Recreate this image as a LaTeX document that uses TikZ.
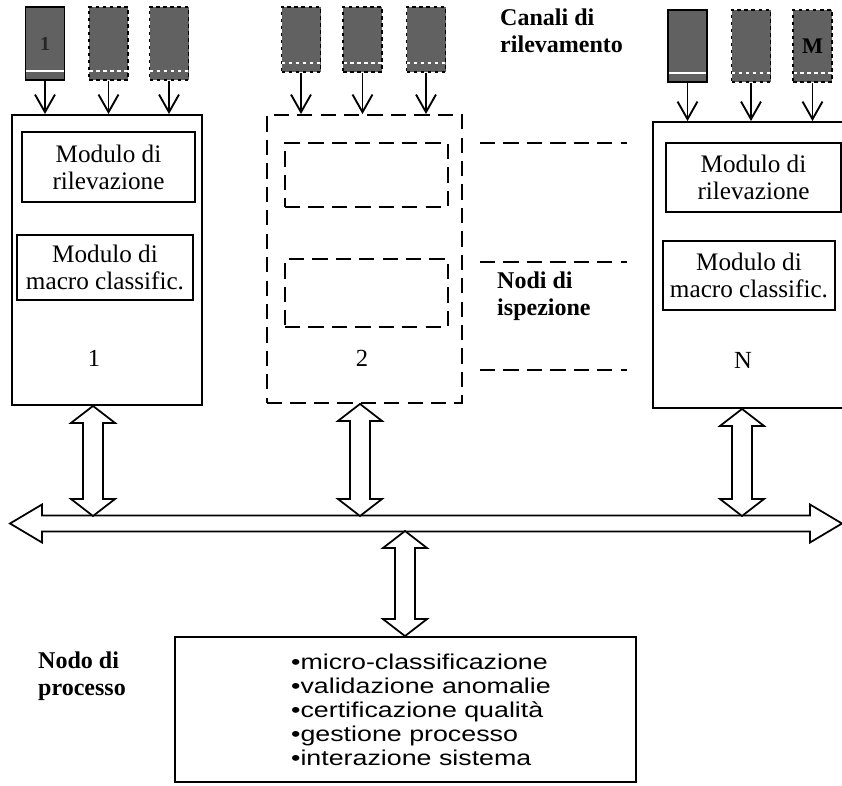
\documentclass[tikz,border=0pt]{standalone}
\usepackage{fontspec}
\setmainfont{Liberation Serif}
\setsansfont{Liberation Sans}
\usepackage{tikz}
\usetikzlibrary{positioning, arrows.meta, calc}

\tikzset{
  bidir/.style n args={3}{line width=1.5pt, fill=white, line join=miter,
    to path={let \p1=(\tikztostart), \p2=(\tikztotarget),
        \p3=($(\p1)!#3!(\p2)$), \p4=($(\p2)!#3!(\p1)$) in
      -- ($(\p3)!#2!90:(\p2)$) -- ($(\p3)!#1!90:(\p2)$)
      -- ($(\p4)!#1!-90:(\p1)$) -- ($(\p4)!#2!-90:(\p1)$)
      -- (\p2)
      -- ($(\p4)!#2!90:(\p1)$) -- ($(\p4)!#1!90:(\p1)$)
      -- ($(\p3)!#1!-90:(\p2)$) -- ($(\p3)!#2!-90:(\p2)$)
      -- cycle}}
}

\begin{document}
\begin{tikzpicture}[x=0.03cm, y=-0.03cm,
      canale/.style={draw, line width=1.2pt, fill=black!62, inner sep=0pt, minimum width=1.17cm,
        path picture={\draw[white, line width=0.9pt]
          ([yshift=0.27cm]path picture bounding box.south west) -- ([yshift=0.27cm]path picture bounding box.south east);}},
      tratto/.style={dash pattern=on 13pt off 7pt},
      nodo/.style={draw, line width=1.6pt, inner sep=0pt},
      modulo/.style={draw, line width=1.6pt, align=center, inner sep=0pt, font=\fontsize{21.5}{23}\selectfont},
      etichetta/.style={font=\bfseries\fontsize{20.5}{23}\selectfont, align=left, anchor=west, inner sep=0pt},
      freccia/.style={-{Straight Barb[length=15pt, width=17pt]}, line width=1.6pt},
      vbus/.style={bidir={0.3cm}{0.66cm}{0.51cm}},
      hbus/.style={bidir={0.24cm}{0.57cm}{0.96cm}}]
  \useasboundingbox (0,0) rectangle (842,786);

  % nodi di ispezione
  \node[nodo, minimum width=5.7cm, minimum height=8.7cm] (n1) at (107,260) {};
  \node[nodo, tratto, minimum width=5.85cm, minimum height=8.64cm] (n2) at (364.5,259) {};
  \node[nodo, minimum width=5.91cm, minimum height=8.58cm] (nN) at (751.5,265) {};

  \node[modulo, minimum width=5.19cm, minimum height=2.1cm] (m1r) at (108.5,167) {Modulo di\\rilevazione};
  \node[modulo, minimum width=5.28cm, minimum height=1.95cm] (m1c) at (105,267.5) {Modulo di\\macro classific.};
  \node[modulo, tratto, minimum width=4.89cm, minimum height=1.92cm] (m2r) at (366.5,175) {};
  \node[modulo, tratto, minimum width=4.89cm, minimum height=2.04cm] (m2c) at (366.5,293) {};
  \node[modulo, minimum width=5.25cm, minimum height=2.07cm] (mNr) at (753.5,177.5) {Modulo di\\rilevazione};
  \node[modulo, minimum width=5.16cm, minimum height=2.07cm] (mNc) at (749,275.5) {Modulo di\\macro classific.};

  \node[font=\fontsize{21}{23}\selectfont] (l1) at (94,358) {1};
  \node[font=\fontsize{21}{23}\selectfont] (l2) at (362,358) {2};
  \node[font=\fontsize{21}{23}\selectfont] (lN) at (743,360) {N};

  % canali di rilevamento
  \node[canale, minimum height=2.19cm, text=black!85, font=\bfseries\fontsize{17}{17}\selectfont] (c11) at (45,43.5) {1};
  \node[canale, dashed, minimum height=2.19cm] (c12) at (108.5,43.5) {};
  \node[canale, dashed, minimum height=2.19cm] (c13) at (169,43.5) {};
  \node[canale, dashed, minimum height=1.95cm] (c21) at (301,39.5) {};
  \node[canale, dashed, minimum height=1.95cm] (c22) at (362.5,39.5) {};
  \node[canale, dashed, minimum height=1.95cm] (c23) at (426,39.5) {};
  \node[canale, minimum height=2.16cm] (cN1) at (687.5,46) {};
  \node[canale, dashed, minimum height=2.16cm] (cN2) at (751,46) {};
  \node[canale, dashed, minimum height=2.16cm, font=\bfseries\fontsize{19}{19}\selectfont] (cN3) at (812.5,46) {M};

  \draw[freccia] (c11) -- (c11 |- n1.north);
  \draw[freccia] (c12) -- (c12 |- n1.north);
  \draw[freccia] (c13) -- (c13 |- n1.north);
  \draw[freccia] (c21) -- (c21 |- n2.north);
  \draw[freccia] (c22) -- (c22 |- n2.north);
  \draw[freccia] (c23) -- (c23 |- n2.north);
  \draw[freccia] (cN1) -- (cN1 |- nN.north);
  \draw[freccia] (cN2) -- (cN2 |- nN.north);
  \draw[freccia] (cN3) -- (cN3 |- nN.north);

  \draw[line width=1.6pt, tratto] (480,143) -- (627,143);
  \draw[line width=1.6pt, tratto] (480,262) -- (627,262);
  \draw[line width=1.6pt, tratto] (480,370) -- (627,370);

  \node[etichetta] (canali) at (500,31) {Canali di\\rilevamento};
  \node[etichetta] (ispezione) at (497,296) {Nodi di\\ispezione};
  \node[etichetta] (processo) at (38,676) {Nodo di\\processo};

  % nodo di processo
  \node[nodo, minimum width=13.83cm, minimum height=4.35cm] (proc) at (405.5,709.5) {};
  \node[align=left, inner sep=0pt, xscale=1.25, transform shape, font=\sffamily\fontsize{18.3}{20.5}\selectfont] (elenco) at (421,709.5)
    {•micro-classificazione\\•validazione anomalie\\•certificazione qualità\\•gestione processo\\•interazione sistema};

  % bus
  \coordinate (busL) at (10,523.5);
  \coordinate (busR) at (842,523.5);
  \coordinate (b1) at (93,516);
  \coordinate (b2) at (360,516);
  \coordinate (bN) at (742,516);
  \coordinate (bP) at (405,531);
  \draw[hbus] (busL) to (busR);
  \draw[vbus] (b1 |- n1.south) to (b1);
  \draw[vbus] (b2 |- n2.south) to (b2);
  \draw[vbus] (bN |- nN.south) to (bN);
  \draw[vbus] (bP |- proc.north) to (bP);
\end{tikzpicture}
\end{document}
